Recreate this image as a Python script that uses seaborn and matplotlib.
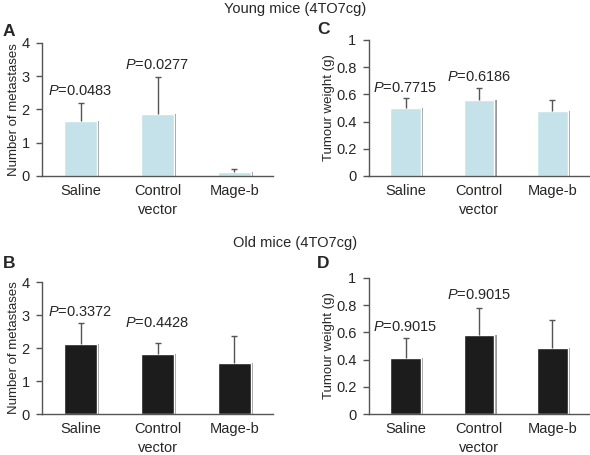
import numpy as np
import pandas as pd
import matplotlib
matplotlib.use("Agg")
import matplotlib.pyplot as plt
import matplotlib.patheffects as pe
import seaborn as sns

# Datos
categorias = ["Saline", "Control\nvector", "Mage-b"]

# A: ratones jovenes, metastasis
jov_met = [1.65, 1.85, 0.12]
jov_met_top = [2.20, 2.97, 0.22]
# C: ratones jovenes, peso del tumor
jov_peso = [0.50, 0.56, 0.48]
jov_peso_top = [0.57, 0.645, 0.56]
# B: ratones viejos, metastasis
vie_met = [2.13, 1.83, 1.55]
vie_met_top = [2.75, 2.15, 2.37]
# D: ratones viejos, peso del tumor
vie_peso = [0.41, 0.58, 0.485]
vie_peso_top = [0.555, 0.78, 0.69]

p_jov_met = ["0.0483", "0.0277"]
p_jov_peso = ["0.7715", "0.6186"]
p_vie_met = ["0.3372", "0.4428"]
p_vie_peso = ["0.9015", "0.9015"]

sns.set_style("white")
plt.rcParams["font.family"] = ["Liberation Sans", "DejaVu Sans"]
plt.rcParams["mathtext.fontset"] = "custom"
plt.rcParams["mathtext.it"] = "Liberation Sans:italic"
plt.rcParams["mathtext.rm"] = "Liberation Sans"

fig = plt.figure(figsize=(5.9, 4.55), dpi=100)

gris = "#555555"
fs = 10.5


def panel(rect, valores, tops, pvals, p_y, color, ymax, yticks, ylabel, letra, letra_xy):
    ax = fig.add_axes(rect)
    df = pd.DataFrame({"cat": categorias, "val": valores})
    sns.barplot(data=df, x="cat", y="val", color=color, width=0.42,
                saturation=1, ax=ax, errorbar=None)
    # sombra gris a la derecha de cada barra
    for p in ax.patches:
        p.set_path_effects([pe.SimplePatchShadow(offset=(1.6, 0), shadow_rgbFace="#9a9a9a", alpha=1),
                            pe.Normal()])
    x = np.arange(len(categorias))
    err = np.array(tops) - np.array(valores)
    _, caps, _ = ax.errorbar(x, valores, yerr=[np.zeros(len(x)), err], fmt="none",
                             ecolor=gris, elinewidth=1, capsize=2.5, capthick=1, zorder=1)
    caps[0].set_visible(False)
    for i, (pv, yy) in enumerate(zip(pvals, p_y)):
        ax.text(i, yy, "$P$=" + pv, ha="center", va="center", fontsize=fs)
    ax.set_xlim(-0.5, 2.5)
    ax.set_ylim(0, ymax)
    ax.set_yticks(yticks)
    ax.set_yticklabels([f"{t:g}" for t in yticks], fontsize=fs)
    ax.set_xticks(x)
    ax.set_xticklabels(categorias, fontsize=fs, linespacing=1.45)
    ax.set_xticks([-0.5, 0.5, 1.5, 2.5], minor=True)
    ax.tick_params(axis="x", which="major", length=0, pad=6)
    ax.tick_params(axis="x", which="minor", length=4, color=gris, width=1, direction="out")
    ax.tick_params(axis="y", length=4, color=gris, width=1, direction="out", left=True, pad=5)
    ax.set_xlabel("")
    ax.set_ylabel(ylabel, fontsize=9.5, labelpad=1)
    for s in ["top", "right"]:
        ax.spines[s].set_visible(False)
    for s in ["left", "bottom"]:
        ax.spines[s].set_color(gris)
        ax.spines[s].set_linewidth(1)
    fig.text(letra_xy[0] / 590, 1 - letra_xy[1] / 455, letra, fontsize=12.5,
             fontweight="bold", ha="left", va="center")
    return ax


azul = "#c5e2eb"
negro = "#1c1c1c"

panel([0.0712, 0.6132, 0.3915, 0.2923], jov_met, jov_met_top, p_jov_met, [2.56, 3.34],
      azul, 4, [0, 1, 2, 3, 4], "Number of metastases", "A", (3, 31))
panel([0.6254, 0.6132, 0.3730, 0.2990], jov_peso, jov_peso_top, p_jov_peso, [0.65, 0.73],
      azul, 1, [0, 0.2, 0.4, 0.6, 0.8, 1], "Tumour weight (g)", "C", (317, 30))
panel([0.0712, 0.0901, 0.3915, 0.2900], vie_met, vie_met_top, p_vie_met, [3.09, 2.76],
      negro, 4, [0, 1, 2, 3, 4], "Number of metastases", "B", (3, 263))
panel([0.6254, 0.0901, 0.3730, 0.2990], vie_peso, vie_peso_top, p_vie_peso, [0.64, 0.875],
      negro, 1, [0, 0.2, 0.4, 0.6, 0.8, 1], "Tumour weight (g)", "D", (317, 263))

fig.text(0.5, 1 - 9 / 455, "Young mice (4TO7cg)", ha="center", va="center", fontsize=fs)
fig.text(0.5, 1 - 243 / 455, "Old mice (4TO7cg)", ha="center", va="center", fontsize=fs)

fig.savefig("out.png", dpi=100)
